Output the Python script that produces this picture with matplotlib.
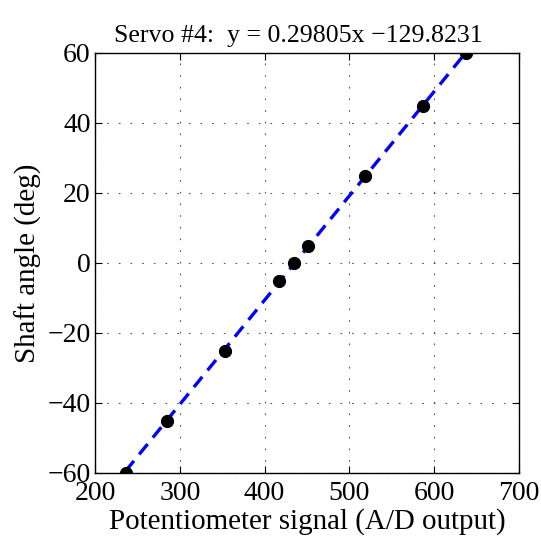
import matplotlib
matplotlib.use('Agg')
import matplotlib.pyplot as plt
import numpy as np

# measured points (A/D reading vs shaft angle)
signal = [236, 285, 353, 417, 435, 451, 518, 587, 638]
angle = [-60, -45, -25, -5, 0, 5, 25, 45, 60]

# linear fit shown in the title
slope = 0.29805
intercept = -129.8231

plt.rcParams['font.family'] = ['Liberation Serif', 'DejaVu Serif']

fig = plt.figure(figsize=(5.41, 5.44), dpi=100)
ax = fig.add_axes([95 / 541, 71 / 544, 424 / 541, 420 / 544])

fit_x = np.array([min(signal), max(signal)])
ax.plot(fit_x, slope * fit_x + intercept, '--', color='#0000ff', linewidth=2.4,
        dashes=(4, 2.5))
ax.plot(signal, angle, 'o', color='black', markersize=8.5)

ax.set_xlim(200, 700)
ax.set_ylim(-60, 60)
ax.set_xticks(np.arange(200, 701, 100))
ax.set_yticks(np.arange(-60, 61, 20))
ax.grid(True, linestyle=(0, (1.5, 9)), color='#555555', linewidth=0.8)
ax.tick_params(direction='in', top=True, right=True, length=5, width=0.8,
               labelsize=20)
ax.tick_params(axis='y', pad=3)
ax.tick_params(axis='x', pad=6)
for s in ax.spines.values():
    s.set_linewidth(1.0)

ax.set_xlabel('Potentiometer signal (A/D output)', fontsize=20.9, labelpad=1)
ax.set_ylabel('Shaft angle (deg)', fontsize=20.9, labelpad=4)
ax.set_title('Servo #4:  y = 0.29805x \u2212129.8231', fontsize=18.6, pad=8,
             x=0.479)

fig.savefig('out.png', dpi=100)
